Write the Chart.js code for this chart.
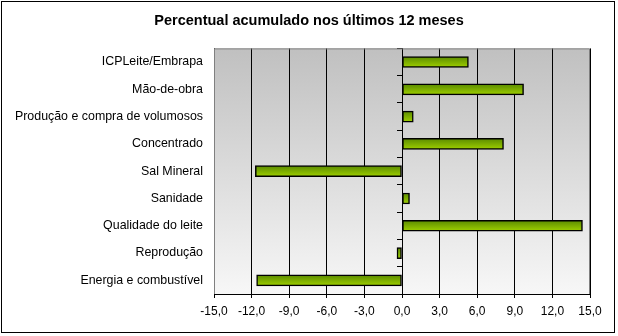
<!DOCTYPE html>
<html>
<head>
<meta charset="utf-8">
<script src="https://cdn.jsdelivr.net/npm/chart.js@4/dist/chart.umd.min.js"></script>
<style>
  body { margin: 0; background: #fff; }
  canvas { display: block; }
</style>
</head>
<body>
<canvas id="grafico" width="618" height="336"></canvas>
<script>
const categorias = [
    'ICPLeite/Embrapa',
    'Mão-de-obra',
    'Produção e compra de volumosos',
    'Concentrado',
    'Sal Mineral',
    'Sanidade',
    'Qualidade do leite',
    'Reprodução',
    'Energia e combustível'
];
const percentuais = [5.3, 9.7, 0.9, 8.1, -11.7, 0.6, 14.4, -0.4, -11.6];
const titulo = 'Percentual acumulado nos últimos 12 meses';

const fonte = '"Liberation Sans", Arial, sans-serif';

// moldura externa e fundo da área do gráfico
const fundo = {
    id: 'fundo',
    beforeDraw(chart) {
        const c = chart.ctx;
        const a = chart.chartArea;
        c.save();
        c.fillStyle = '#fff';
        c.fillRect(0, 0, chart.width, chart.height);
        c.strokeStyle = '#000';
        c.lineWidth = 1;
        c.strokeRect(1.5, 1.5, 613, 331);
        const g = c.createLinearGradient(0, a.top, 0, a.bottom);
        g.addColorStop(0, '#c0c0c0');
        g.addColorStop(1, '#f7f7f7');
        c.fillStyle = g;
        c.fillRect(a.left, a.top, a.right - a.left, a.bottom - a.top);
        c.restore();
    },
    beforeDatasetsDraw(chart) {
        const c = chart.ctx;
        const a = chart.chartArea;
        c.save();
        c.strokeStyle = '#808080';
        c.lineWidth = 1;
        c.beginPath();
        c.moveTo(a.left + 0.5, a.bottom);
        c.lineTo(a.left + 0.5, a.top + 0.5);
        c.lineTo(a.right - 0.5, a.top + 0.5);
        c.lineTo(a.right - 0.5, a.bottom);
        c.stroke();
        c.restore();
    }
};

function corBarra(ctx) {
    const chart = ctx.chart;
    const escala = chart.scales.y;
    if (!escala || ctx.dataIndex === undefined) return '#8cbf00';
    const y = escala.getPixelForValue(ctx.dataIndex);
    if (!isFinite(y)) return '#8cbf00';
    const g = chart.ctx.createLinearGradient(0, y - 5.5, 0, y + 5.5);
    g.addColorStop(0, '#5a8a00');
    g.addColorStop(1, '#9fd000');
    return g;
}

new Chart(document.getElementById('grafico'), {
    type: 'bar',
    data: {
        labels: categorias,
        datasets: [{
            data: percentuais,
            backgroundColor: corBarra,
            borderColor: '#000',
            borderWidth: 1.5,
            borderSkipped: false,
            barThickness: 11,
            yAxisID: 'y'
        }]
    },
    options: {
        indexAxis: 'y',
        responsive: false,
        animation: false,
        layout: { padding: { left: 0, right: 0, top: 0, bottom: 12 } },
        plugins: {
            legend: { display: false },
            tooltip: { enabled: false },
            title: {
                display: true,
                text: titulo,
                color: '#000',
                font: { family: fonte, size: 14.5, weight: 'bold' },
                padding: { top: 12, bottom: 19 }
            }
        },
        scales: {
            x: {
                min: -15,
                max: 15,
                afterFit(s) { s.height = 30; },
                border: { color: '#000', width: 1 },
                grid: { color: '#000', lineWidth: 1, tickLength: 4 },
                ticks: {
                    stepSize: 3,
                    color: '#000',
                    padding: 6,
                    maxRotation: 0,
                    font: { family: fonte, size: 12 },
                    callback: v => v.toFixed(1).replace('.', ',')
                }
            },
            y: {
                afterFit(s) { s.width = 214; },
                border: { display: false },
                grid: { display: false, drawTicks: false },
                ticks: {
                    color: '#000',
                    padding: 11,
                    font: { family: fonte, size: 12.4 }
                }
            },
            // margem à direita, sem nada desenhado
            margem: {
                type: 'category',
                axis: 'y',
                position: 'right',
                afterFit(s) { s.width = 28; },
                border: { display: false },
                grid: { display: false, drawTicks: false },
                ticks: { display: false }
            },
            eixoZero: {
                type: 'category',
                axis: 'y',
                position: { x: 0 },
                border: { color: '#000', width: 1 },
                grid: { drawOnChartArea: false, color: '#000', tickLength: 5, offset: true },
                ticks: { display: false }
            }
        }
    },
    plugins: [fundo]
});
</script>
</body>
</html>
